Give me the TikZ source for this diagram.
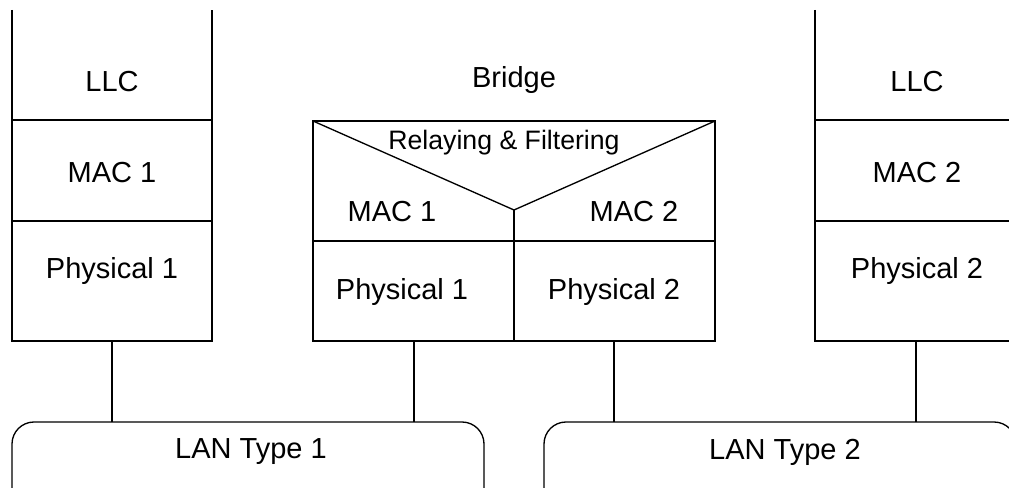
\documentclass[tikz,border=0pt]{standalone}
\usepackage{fontspec}
\setmainfont{Liberation Sans}
\tikzset{every picture/.style={line width=1pt}}
\tikzset{lbl/.style={font=\fontsize{21.75}{26}\selectfont},
  smalllbl/.style={font=\fontsize{20}{24}\selectfont}}

\begin{document}
\begin{tikzpicture}[x=0.75pt,y=0.75pt,yscale=-1,xscale=1]
\useasboundingbox (0,0) rectangle (1009,488);
\clip (0,0) rectangle (1009,488);

%Shape: left station
\draw   (12,10) -- (12,341) -- (212,341) -- (212,10) ;
\draw   (12,120) -- (212,120) ;
\draw   (12,221) -- (212,221) ;
%Shape: right station
\draw   (815,10) -- (815,341) -- (1020,341) ;
\draw   (815,120) -- (1020,120) ;
\draw   (815,221) -- (1020,221) ;
%Shape: bridge
\draw   (313,121) -- (715,121) -- (715,341) -- (313,341) -- cycle ;
\draw   (313,121) -- (514,210) -- (715,121) ;
\draw   (313,241) -- (715,241) ;
\draw   (514,210) -- (514,341) ;
%Rounded Rect: LAN 1
\draw [rounded corners=16.5pt]  (12,510) -- (12,422) -- (484,422) -- (484,510) ;
%Rounded Rect: LAN 2
\draw [rounded corners=16.5pt]  (544,510) -- (544,422) -- (1016,422) -- (1016,510) ;

% Ports
\coordinate (stAbot) at (112,341);
\coordinate (brAbot) at (414,341);
\coordinate (brBbot) at (614,341);
\coordinate (stBbot) at (916,341);
\coordinate (lanAl) at (112,422);
\coordinate (lanAr) at (414,422);
\coordinate (lanBl) at (614,422);
\coordinate (lanBr) at (916,422);

%Straight Lines
\draw    (stAbot) -- (lanAl) ;
\draw    (brAbot) -- (lanAr) ;
\draw    (brBbot) -- (lanBl) ;
\draw    (stBbot) -- (lanBr) ;

% Text Node
\draw (112,82) node [lbl] (llcA) {LLC};
% Text Node
\draw (112,173) node [lbl] (macA) {MAC 1};
% Text Node
\draw (112,271) node [lbl] (phyA) {Physical 1};
% Text Node
\draw (917,82) node [lbl] (llcB) {LLC};
% Text Node
\draw (917,173) node [lbl] (macB) {MAC 2};
% Text Node
\draw (917,271) node [lbl] (phyB) {Physical 2};
% Text Node
\draw (514,80) node [lbl] (bridge) {Bridge};
% Text Node
\draw (504,143) node [smalllbl] (relay) {Relaying \& Filtering};
% Text Node
\draw (392,212) node [lbl] (brmacA) {MAC 1};
% Text Node
\draw (634,212) node [lbl] (brmacB) {MAC 2};
% Text Node
\draw (402,292) node [lbl] (brphyA) {Physical 1};
% Text Node
\draw (614,292) node [lbl] (brphyB) {Physical 2};
% Text Node
\draw (251,452) node [lbl] (lanA) {LAN Type 1};
% Text Node
\draw (785,452) node [lbl] (lanB) {LAN Type 2};

\end{tikzpicture}
\end{document}
